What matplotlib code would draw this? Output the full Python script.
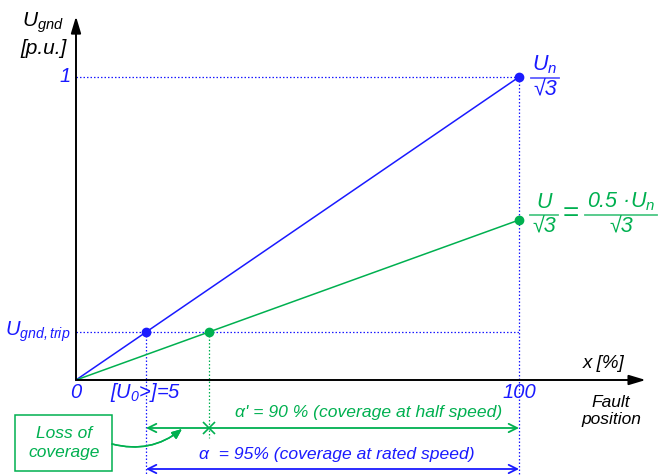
import matplotlib
matplotlib.use("Agg")
import matplotlib.pyplot as plt
from matplotlib.patches import Rectangle

plt.rcParams['font.family'] = ['Liberation Sans', 'DejaVu Sans']
plt.rcParams['mathtext.fontset'] = 'custom'
plt.rcParams['mathtext.it'] = 'Liberation Sans:italic'
plt.rcParams['mathtext.rm'] = 'Liberation Sans:italic'
plt.rcParams['mathtext.sf'] = 'Liberation Sans:italic'

# fault position [%] and earth voltage [p.u.] (schematic)
x_end = [0, 100]
u_rated = [0, 1.0]     # machine at rated speed
u_half = [0, 0.528]    # machine at half speed
u_trip = 0.158         # U_gnd,trip level

tick_labels = ['0', r'[$U_0$>]=5', '100']

BLUE = '#1a1aff'
GREEN = '#00b050'

# where each line reaches the trip level
x_trip_rated = u_trip / u_rated[1] * x_end[1]
x_trip_half = u_trip / u_half[1] * x_end[1]

fig = plt.figure(figsize=(6.68, 4.75), dpi=100)
ax = fig.add_axes([76 / 668, 95 / 475, 443 / 668, 303 / 475])
ax.set_xlim(0, 100)
ax.set_ylim(0, 1)
ax.axis('off')


def fp(x, y):
    # pixel position -> figure fraction
    return (x / 668, 1 - y / 475)


def ftext(x, y, s, **kw):
    kw.setdefault('style', 'italic')
    fig.text(*fp(x, y), s, **kw)


dot = (0, (1.2, 1.6))
ybot = -0.32

# guide lines
ax.plot([0, x_end[1]], [u_rated[1], u_rated[1]], color=BLUE, lw=0.9, ls=dot, clip_on=False)
ax.plot([x_end[1], x_end[1]], [u_rated[1], ybot], color=BLUE, lw=0.9, ls=dot, clip_on=False)
ax.plot([0, x_end[1]], [u_trip, u_trip], color=BLUE, lw=0.9, ls=dot, clip_on=False)
ax.plot([x_trip_rated, x_trip_rated], [u_trip, ybot], color=BLUE, lw=0.9, ls=dot, clip_on=False)
ax.plot([x_trip_half, x_trip_half], [u_trip, -0.19], color=GREEN, lw=0.9, ls=dot, clip_on=False)

# voltage lines
ax.plot(x_end, u_rated, color=BLUE, lw=1.1, clip_on=False)
ax.plot(x_end, u_half, color=GREEN, lw=1.1, clip_on=False)
ax.plot([x_end[1], x_trip_rated], [u_rated[1], u_trip], 'o', color=BLUE, ms=6, clip_on=False)
ax.plot([x_end[1], x_trip_half], [u_half[1], u_trip], 'o', color=GREEN, ms=6, clip_on=False)

# axes with arrows
ax.annotate('', xy=(128.6, 0), xytext=(0, 0), annotation_clip=False,
            arrowprops=dict(arrowstyle='-|>,head_length=1.0,head_width=0.3',
                            color='black', lw=1.4, shrinkA=0, shrinkB=0))
ax.annotate('', xy=(0, 1.2), xytext=(0, 0), annotation_clip=False,
            arrowprops=dict(arrowstyle='-|>,head_length=1.0,head_width=0.3',
                            color='black', lw=1.4, shrinkA=0, shrinkB=0))

# x tick labels
for xv, lab in zip([0, x_trip_rated, x_end[1]], tick_labels):
    ax.text(xv, -0.04, lab, color=BLUE, fontsize=14.5, style='italic',
            ha='center', va='center', clip_on=False)

ax.text(-1.2, u_rated[1], '1', color=BLUE, fontsize=14.5, style='italic',
        ha='right', va='center')
ax.text(-1.2, u_trip, r'$U_{gnd,trip}$', color=BLUE, fontsize=14.5,
        ha='right', va='center')

ftext(64, 27, r'$U_{gnd}$', fontsize=15, ha='right', va='baseline')
ftext(67, 49, '[p.u.]', fontsize=15, ha='right', va='center')
ftext(625, 364, 'x [%]', fontsize=13.5, ha='right', va='center')
ftext(611, 411, 'Fault\nposition', fontsize=12.5, ha='center', va='center',
      linespacing=1.15)


def frac(xc, y, num, den, w, color):
    ftext(xc, y - 2, num, fontsize=15.5, color=color, ha='center', va='bottom')
    ftext(xc, y + 1, den, fontsize=15.5, color=color, ha='center', va='top')
    x0, y0 = fp(xc - w / 2, y)
    x1, _ = fp(xc + w / 2, y)
    fig.add_artist(plt.Line2D([x0, x1], [y0, y0], color=color, lw=1.3, alpha=0.7))


frac(545, 78, r'$U_n$', '√3', 28, BLUE)
frac(544, 215, 'U', '√3', 28, GREEN)
ftext(571, 214, '=', fontsize=20, color=GREEN, ha='center', va='center', style='normal')
frac(621, 215, r'0.5 ·$U_n$', '√3', 72, GREEN)

# coverage arrows
yg = -(428 - 380) / 303
yb = -(469 - 380) / 303
ax.annotate('', xy=(x_end[1], yg), xytext=(x_trip_rated, yg), annotation_clip=False,
            arrowprops=dict(arrowstyle='<->,head_length=0.6,head_width=0.3',
                            color=GREEN, lw=1.3, shrinkA=0, shrinkB=0))
ax.annotate('', xy=(x_end[1], yb), xytext=(x_trip_rated, yb), annotation_clip=False,
            arrowprops=dict(arrowstyle='<->,head_length=0.6,head_width=0.3',
                            color=BLUE, lw=1.3, shrinkA=0, shrinkB=0))
ax.plot([x_trip_half], [yg], 'x', color=GREEN, ms=8, mew=1.2, clip_on=False)

ftext(369, 412, "α' = 90 % (coverage at half speed)", fontsize=12.6, color=GREEN,
      ha='center', va='center')
ftext(337, 454, 'α  = 95% (coverage at rated speed)', fontsize=12.6, color=BLUE,
      ha='center', va='center')

# loss of coverage note
x0, y0 = fp(15, 471)
x1, y1 = fp(112, 415)
fig.add_artist(Rectangle((x0, y0), x1 - x0, y1 - y0, transform=fig.transFigure,
                         fill=False, edgecolor=GREEN, lw=1.1))
ftext(64, 443, 'Loss of\ncoverage', fontsize=12.5, color=GREEN, ha='center',
      va='center', linespacing=1.25)
fig.add_artist(plt.annotate('', xy=fp(182, 429), xytext=fp(112, 444),
                            xycoords='figure fraction', textcoords='figure fraction',
                            arrowprops=dict(arrowstyle='-|>,head_length=0.6,head_width=0.25',
                                            color=GREEN, lw=1.1, shrinkA=0, shrinkB=0,
                                            connectionstyle='arc3,rad=0.25')))

fig.savefig('out.png', dpi=100)
